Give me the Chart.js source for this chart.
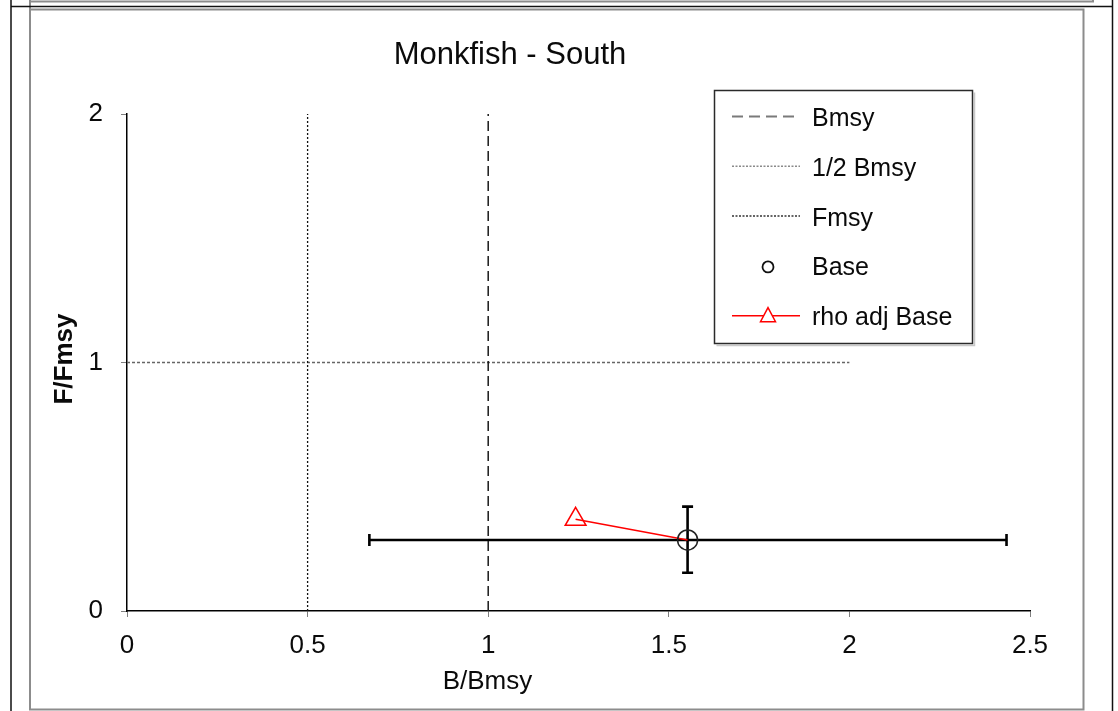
<!DOCTYPE html>
<html><head><meta charset="utf-8">
<script src="https://cdn.jsdelivr.net/npm/chart.js@4"></script>
<style>html,body{margin:0;padding:0;background:#fff;overflow:hidden}#wrap{position:relative;width:1118px;height:711px}</style>
</head><body><div id="wrap"><canvas id="c" width="1118" height="711"></canvas></div>
<script>
// ---- data ----
const chartTitle = 'Monkfish - South';
const xTitle = 'B/Bmsy';
const yTitle = 'F/Fmsy';
const xTicks = [0, 0.5, 1, 1.5, 2, 2.5];
const xTickLabels = ['0', '0.5', '1', '1.5', '2', '2.5'];
const yTicks = [0, 1, 2];
const yTickLabels = ['0', '1', '2'];
const legendLabels = ['Bmsy', '1/2 Bmsy', 'Fmsy', 'Base', 'rho adj Base'];
const bmsyX = [1, 1];      const bmsyY = [0, 2];
const halfBmsyX = [0.5, 0.5]; const halfBmsyY = [0, 2];
const fmsyX = [0, 2];      const fmsyY = [1, 1];
const baseB = [1.552];     const baseF = [0.286];
const baseBLow = [0.671];  const baseBHigh = [2.435];
const baseFLow = [0.154];  const baseFHigh = [0.42];
const rhoB = [1.242, 1.552]; const rhoF = [0.369, 0.286];

const pts = (xs, ys) => xs.map((x, i) => ({x: x, y: ys[i]}));
const FONT = "'Liberation Sans', Arial, sans-serif";
const TXT = '#0a0a0a';

const datasets = [
  {label: legendLabels[0], data: pts(bmsyX, bmsyY), showLine: true, borderColor: '#1a1a1a', borderWidth: 1.5, borderDash: [10, 5], pointRadius: 0, legendColor: '#7a7a7a', legendDash: [11, 6], legendWidth: 2},
  {label: legendLabels[1], data: pts(halfBmsyX, halfBmsyY), showLine: true, borderColor: '#111', borderWidth: 1.3, borderDash: [2, 2], pointRadius: 0, legendColor: '#8a8a8a', legendDash: [2, 1.5], legendWidth: 1.5},
  {label: legendLabels[2], data: pts(fmsyX, fmsyY), showLine: true, borderColor: '#666', borderWidth: 1.3, borderDash: [3, 2], pointRadius: 0, legendColor: '#333', legendDash: [2, 1.5], legendWidth: 1.5},
  {label: legendLabels[3], data: pts(baseB, baseF), showLine: false, pointStyle: 'circle', pointRadius: 10, pointBorderColor: '#222', pointBorderWidth: 1.5, pointBackgroundColor: 'rgba(0,0,0,0)', borderColor: '#222'},
  {label: legendLabels[4], data: pts(rhoB, rhoF), showLine: true, borderColor: '#ff0000', borderWidth: 1.5, pointStyle: 'triangle', pointRadius: [12, 0], pointBorderColor: '#ff0000', pointBorderWidth: 1.5, pointBackgroundColor: 'rgba(0,0,0,0)'}
];

const decor = {
  id: 'decor',
  beforeDatasetsDraw(chart) {
    const ctx = chart.ctx, xs = chart.scales.x, ys = chart.scales.y;
    ctx.save();
    ctx.strokeStyle = '#000';
    ctx.lineWidth = 2.6;
    for (let i = 0; i < baseB.length; i++) {
      const px = xs.getPixelForValue(baseB[i]), py = ys.getPixelForValue(baseF[i]);
      const xl = xs.getPixelForValue(baseBLow[i]), xh = xs.getPixelForValue(baseBHigh[i]);
      const yl = ys.getPixelForValue(baseFLow[i]), yh = ys.getPixelForValue(baseFHigh[i]);
      ctx.beginPath();
      ctx.moveTo(xl, py); ctx.lineTo(xh, py);
      ctx.moveTo(xl, py - 6); ctx.lineTo(xl, py + 6);
      ctx.moveTo(xh, py - 6); ctx.lineTo(xh, py + 6);
      ctx.moveTo(px, yl); ctx.lineTo(px, yh);
      ctx.moveTo(px - 5.5, yl); ctx.lineTo(px + 5.5, yl);
      ctx.moveTo(px - 5.5, yh); ctx.lineTo(px + 5.5, yh);
      ctx.stroke();
    }
    ctx.restore();
  },
  afterDraw(chart) {
    const ctx = chart.ctx;
    ctx.save();
    // page frame lines
    ctx.strokeStyle = '#8c8c8c'; ctx.lineWidth = 2;
    ctx.beginPath();
    ctx.moveTo(30, 1.5); ctx.lineTo(1093, 1.5); ctx.lineTo(1093, 0);
    ctx.stroke();
    ctx.beginPath();
    ctx.rect(30, 9.5, 1053.5, 700);
    ctx.stroke();
    ctx.beginPath(); ctx.moveTo(30, 0); ctx.lineTo(30, 9); ctx.stroke();
    ctx.strokeStyle = '#111'; ctx.lineWidth = 1.5;
    ctx.beginPath();
    ctx.moveTo(11, 6.5); ctx.lineTo(1112.5, 6.5);
    ctx.moveTo(11, 0); ctx.lineTo(11, 711);
    ctx.moveTo(1112.5, 0); ctx.lineTo(1112.5, 711);
    ctx.stroke();

    // titles
    ctx.fillStyle = TXT;
    ctx.textAlign = 'center'; ctx.textBaseline = 'alphabetic';
    ctx.font = '31px ' + FONT;
    ctx.fillText(chartTitle, 510, 63.5);
    ctx.font = '26px ' + FONT;
    ctx.fillText(xTitle, 487.5, 688.5);
    ctx.save();
    ctx.translate(71.5, 359);
    ctx.rotate(-Math.PI / 2);
    ctx.font = 'bold 26px ' + FONT;
    ctx.fillText(yTitle, 0, 0);
    ctx.restore();

    // legend
    const lx = 714.5, ly = 90.5, lw = 258, lh = 253;
    ctx.strokeStyle = '#c8c8c8'; ctx.lineWidth = 1.5;
    ctx.beginPath(); ctx.moveTo(lx + 2, ly + lh + 2); ctx.lineTo(lx + lw + 2, ly + lh + 2); ctx.lineTo(lx + lw + 2, ly + 2); ctx.stroke();
    ctx.fillStyle = '#fff'; ctx.fillRect(lx, ly, lw, lh);
    ctx.strokeStyle = '#2a2a2a'; ctx.lineWidth = 1.5;
    ctx.strokeRect(lx, ly, lw, lh);
    const ds = chart.data.datasets;
    ds.forEach((d, i) => {
      const y = 116.5 + i * 49.8;
      ctx.save();
      if (i < 3) {
        ctx.strokeStyle = d.legendColor; ctx.lineWidth = d.legendWidth; ctx.setLineDash(d.legendDash);
        ctx.beginPath(); ctx.moveTo(732, y); ctx.lineTo(800, y); ctx.stroke();
      } else if (i === 3) {
        ctx.strokeStyle = '#111'; ctx.lineWidth = 1.8;
        ctx.beginPath(); ctx.arc(768, y + 1, 5.5, 0, Math.PI * 2); ctx.stroke();
      } else {
        ctx.strokeStyle = '#ff0000'; ctx.lineWidth = 1.5;
        ctx.beginPath(); ctx.moveTo(732, y); ctx.lineTo(800, y); ctx.stroke();
        ctx.beginPath(); ctx.moveTo(768, y - 8); ctx.lineTo(775.5, y + 6); ctx.lineTo(760.5, y + 6); ctx.closePath();
        ctx.fillStyle = '#fff'; ctx.fill(); ctx.stroke();
      }
      ctx.restore();
      ctx.fillStyle = TXT; ctx.textAlign = 'left'; ctx.textBaseline = 'alphabetic';
      ctx.font = '25px ' + FONT;
      ctx.fillText(d.label, 812, y + 9.5);
    });
    ctx.restore();
  }
};

new Chart(document.getElementById('c'), {
  type: 'scatter',
  data: {datasets: datasets},
  options: {
    responsive: false, animation: false, devicePixelRatio: 1,
    layout: {padding: {left: 0, right: 88, top: 114, bottom: 0}},
    plugins: {legend: {display: false}, title: {display: false}, tooltip: {enabled: false}},
    scales: {
      x: {
        type: 'linear', min: 0, max: 2.5,
        afterBuildTicks: s => { s.ticks = xTicks.map(v => ({value: v})); },
        afterFit: s => { s.height = 100; },
        grid: {display: true, drawOnChartArea: false, drawTicks: true, tickLength: 6, color: '#7f7f7f', lineWidth: 1},
        border: {display: true, color: '#000', width: 1.5},
        ticks: {font: {family: FONT, size: 26}, color: TXT, padding: 13, maxRotation: 0, autoSkip: false,
                callback: (v, i) => xTickLabels[i]}
      },
      y: {
        type: 'linear', min: 0, max: 2,
        afterBuildTicks: s => { s.ticks = yTicks.map(v => ({value: v})); },
        afterFit: s => { s.width = 127; },
        grid: {display: true, drawOnChartArea: false, drawTicks: true, tickLength: 6, color: '#7f7f7f', lineWidth: 1},
        border: {display: true, color: '#000', width: 1.5},
        ticks: {font: {family: FONT, size: 26}, color: TXT, padding: 18, autoSkip: false,
                callback: (v, i) => yTickLabels[i]}
      }
    }
  },
  plugins: [decor]
});
</script></body></html>
